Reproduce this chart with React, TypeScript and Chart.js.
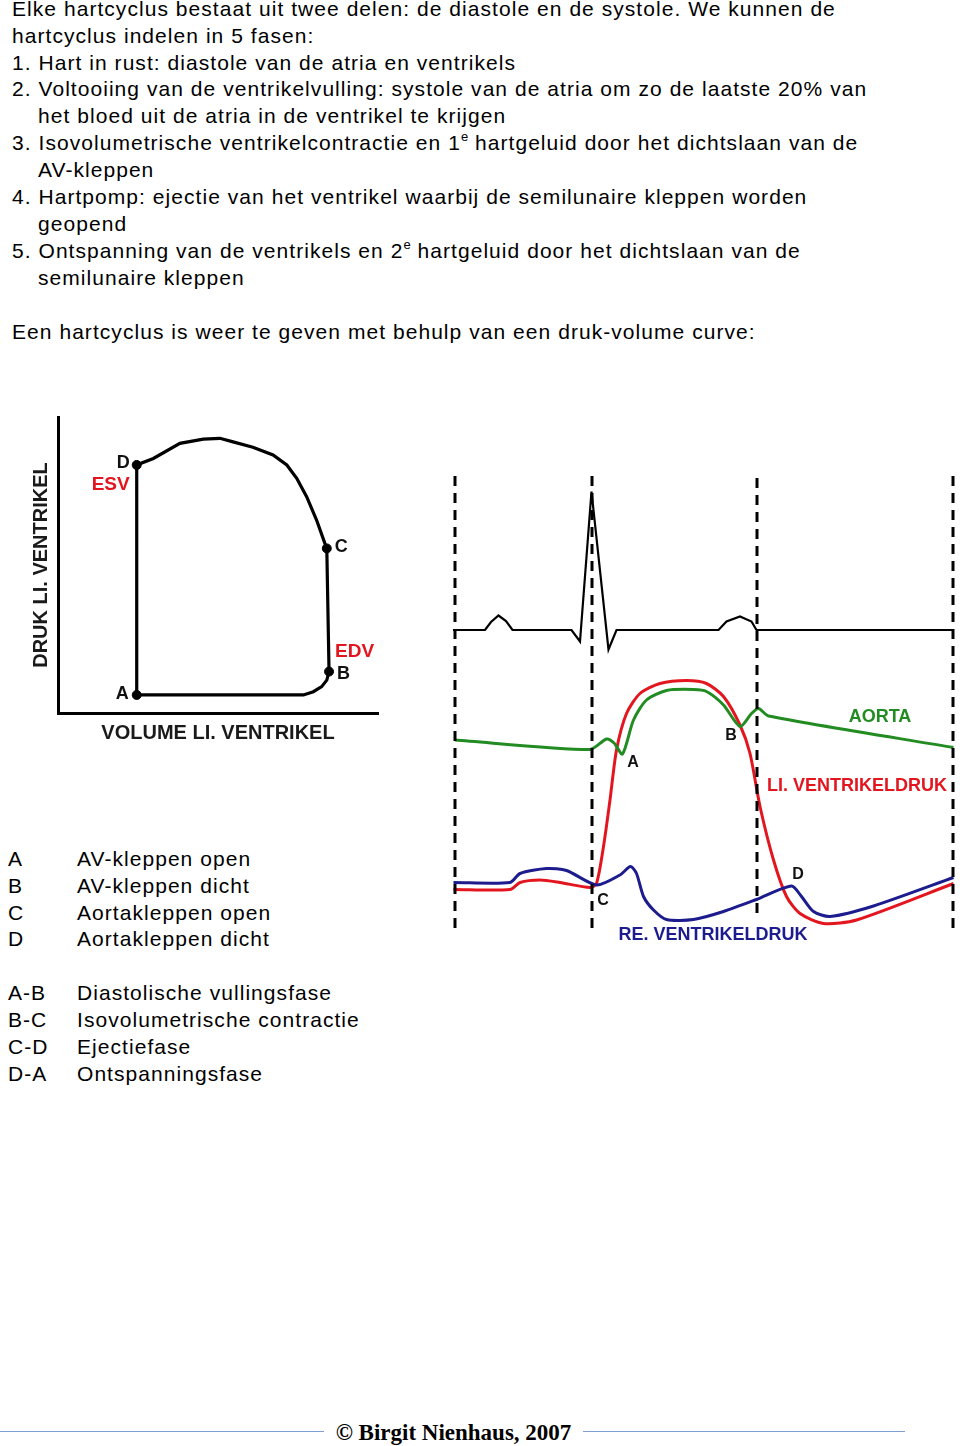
import React, { useEffect, useRef } from "react";
import { Chart, registerables } from "chart.js";

Chart.register(...registerables);

const FONT = '"Liberation Sans", Arial, Helvetica, sans-serif';

// ---------- Druk-volume curve (arbitrary units) ----------
// loop order: A -> B -> C -> D -> A
const pvVolume = [24.6, 76.7, 79.8, 82.4, 84.0, 84.7, 84.0, 83.4, 80.8, 77.7, 74.6, 71.5, 67.2, 60.9, 54.7, 50.6, 45.4, 38.1, 29.8, 24.6, 24.6];
const pvPressure = [6.1, 6.1, 7.2, 8.9, 11.1, 14.0, 55.6, 57.3, 65.2, 73.1, 79.3, 83.8, 87.2, 89.8, 91.6, 92.8, 92.5, 91.1, 86.0, 83.8, 6.1];
const pvKeyNames = ["A", "B", "C", "D"];
const pvKeyIndex = [0, 5, 6, 19];

// ---------- Wiggers diagram (time in % of cycle, arbitrary pressure units) ----------
const ecgTime = [0.6, 7.0, 8.2, 9.7, 11.2, 12.5, 24.3, 26.0, 28.3, 31.7, 33.3, 53.7, 55.3, 58.0, 60.3, 61.3, 100.7];
const ecgValue = [61.0, 61.0, 62.6, 63.9, 62.8, 61.0, 61.0, 58.7, 88.7, 57.1, 61.0, 61.0, 62.7, 63.7, 62.7, 61.0, 61.0];

const aortaTime = [1.0, 28.0, 31.3, 32.8, 34.5, 36.7, 39.3, 43.3, 48.7, 51.3, 54.7, 58.0, 60.3, 61.7, 63.7, 100.7];
const aortaValue = [39.0, 37.1, 39.2, 38.4, 36.2, 43.0, 47.0, 48.9, 49.1, 48.7, 46.0, 41.7, 44.3, 45.3, 43.8, 37.5];

const lvTime = [0.7, 12.0, 14.0, 18.0, 22.0, 28.0, 29.3, 30.7, 32.0, 33.3, 35.3, 38.0, 42.0, 47.3, 51.3, 54.7, 58.0, 60.0, 62.0, 64.7, 67.3, 70.0, 74.7, 81.3, 100.7];
const lvValue = [9.1, 9.1, 10.5, 11.0, 10.5, 9.5, 10.3, 17.7, 27.0, 37.0, 44.3, 48.3, 50.3, 50.9, 50.3, 47.7, 42.0, 36.3, 25.7, 15.0, 7.7, 4.3, 2.3, 3.0, 10.3];

const rvTime = [0.7, 12.0, 14.0, 19.3, 23.3, 29.3, 34.0, 36.1, 37.3, 38.7, 40.7, 43.3, 48.7, 54.7, 61.3, 68.3, 70.3, 72.7, 76.0, 84.7, 100.7];
const rvValue = [10.5, 10.5, 12.3, 13.3, 12.9, 10.0, 12.0, 13.7, 12.3, 7.7, 5.0, 3.1, 3.1, 4.7, 7.1, 9.8, 7.7, 4.7, 3.7, 5.8, 11.5];

const dividerTimes = [1.0, 28.4, 61.4, 100.6];
const dividerBottom = [1.4, 1.4, 4.4, 1.4];
const dividerTop = [92.4, 92.4, 92.4, 92.4];

const introLines: { text: string; indent?: boolean; sup?: [string, string] }[] = [
  { text: "Elke hartcyclus bestaat uit twee delen: de diastole en de systole. We kunnen de" },
  { text: "hartcyclus indelen in 5 fasen:" },
  { text: "1. Hart in rust: diastole van de atria en ventrikels" },
  { text: "2. Voltooiing van de ventrikelvulling: systole van de atria om zo de laatste 20% van" },
  { text: "het bloed uit de atria in de ventrikel te krijgen", indent: true },
  { text: "", sup: ["3. Isovolumetrische ventrikelcontractie en 1", " hartgeluid door het dichtslaan van de"] },
  { text: "AV-kleppen", indent: true },
  { text: "4. Hartpomp: ejectie van het ventrikel waarbij de semilunaire kleppen worden" },
  { text: "geopend", indent: true },
  { text: "", sup: ["5. Ontspanning van de ventrikels en 2", " hartgeluid door het dichtslaan van de"] },
  { text: "semilunaire kleppen", indent: true },
  { text: "" },
  { text: "Een hartcyclus is weer te geven met behulp van een druk-volume curve:" },
];

const legendPoints = [
  ["A", "AV-kleppen open"],
  ["B", "AV-kleppen dicht"],
  ["C", "Aortakleppen open"],
  ["D", "Aortakleppen dicht"],
];
const legendPhases = [
  ["A-B", "Diastolische vullingsfase"],
  ["B-C", "Isovolumetrische contractie"],
  ["C-D", "Ejectiefase"],
  ["D-A", "Ontspanningsfase"],
];

const RED = "#e3161f";
const GREEN = "#228b22";
const BLUE = "#1c1c8f";

const textMarksPlugin = {
  id: "textMarks",
  afterDatasetsDraw(chart: any, _args: any, opts: any) {
    const marks = (opts && opts.marks) || [];
    const { ctx } = chart;
    const xs = chart.scales.x;
    const ys = chart.scales.y;
    ctx.save();
    for (const m of marks) {
      ctx.font = `bold ${m.size}px ${FONT}`;
      ctx.fillStyle = m.color;
      ctx.textAlign = m.align || "center";
      ctx.textBaseline = "middle";
      const x = xs.getPixelForValue(m.x) + (m.dx || 0);
      const y = ys.getPixelForValue(m.y) + (m.dy || 0);
      ctx.fillText(m.text, x, y);
    }
    ctx.restore();
  },
};

function PVLoopChart() {
  const ref = useRef<HTMLCanvasElement | null>(null);
  useEffect(() => {
    if (!ref.current) return;
    const loop = pvVolume.map((v, i) => ({ x: v, y: pvPressure[i] }));
    const keys = pvKeyIndex.map((i) => ({ x: pvVolume[i], y: pvPressure[i] }));
    const offsets: Record<string, { dx: number; dy: number; align: string }> = {
      A: { dx: -8, dy: -1, align: "right" },
      B: { dx: 8, dy: 2, align: "left" },
      C: { dx: 8, dy: -1, align: "left" },
      D: { dx: -7, dy: -2, align: "right" },
    };
    const marks: any[] = pvKeyNames.map((n, k) => ({
      text: n,
      x: keys[k].x,
      y: keys[k].y,
      ...offsets[n],
      size: 18,
      color: "#111",
    }));
    marks.push({ text: "ESV", x: keys[3].x, y: keys[3].y, dx: -7, dy: 20, align: "right", size: 19, color: RED });
    marks.push({ text: "EDV", x: keys[1].x, y: keys[1].y, dx: 6, dy: -20, align: "left", size: 19, color: RED });

    const axisTitleFont = { family: FONT, size: 20, weight: "bold" as const };
    const chart = new Chart(ref.current, {
      type: "scatter",
      data: {
        datasets: [
          {
            data: loop,
            showLine: true,
            borderColor: "#000",
            borderWidth: 3.2,
            pointRadius: 0,
            tension: 0,
            clip: false,
          } as any,
          {
            data: keys,
            showLine: false,
            pointRadius: 4.5,
            pointBackgroundColor: "#000",
            pointBorderColor: "#000",
            clip: false,
          } as any,
        ],
      },
      options: {
        animation: false,
        responsive: false,
        maintainAspectRatio: false,
        layout: { padding: { left: 0, right: 12, top: 10, bottom: 0 } },
        plugins: {
          legend: { display: false },
          tooltip: { enabled: false },
          textMarks: { marks },
        } as any,
        scales: {
          x: {
            type: "linear",
            min: 0,
            max: 100,
            ticks: { display: false },
            grid: { display: false, drawTicks: false },
            border: { display: true, width: 3, color: "#000" },
            title: { display: true, text: "VOLUME LI. VENTRIKEL", color: "#1a1a1a", font: axisTitleFont, padding: { top: 8, bottom: 0 } },
          },
          y: {
            type: "linear",
            min: 0,
            max: 100,
            ticks: { display: false },
            grid: { display: false, drawTicks: false },
            border: { display: true, width: 3, color: "#000" },
            title: { display: true, text: "DRUK LI. VENTRIKEL", color: "#1a1a1a", font: axisTitleFont, padding: { top: 0, bottom: 5 } },
          },
        },
      },
      plugins: [textMarksPlugin as any],
    });
    return () => chart.destroy();
  }, []);
  return (
    <canvas
      ref={ref}
      width={361}
      height={338}
      style={{ position: "absolute", left: 29, top: 407, width: 361, height: 338 }}
    />
  );
}

function WiggersChart() {
  const ref = useRef<HTMLCanvasElement | null>(null);
  useEffect(() => {
    if (!ref.current) return;
    const toPts = (t: number[], v: number[]) => t.map((x, i) => ({ x, y: v[i] }));
    const dividers = dividerTimes.map((t, i) => ({
      data: [
        { x: t, y: dividerBottom[i] },
        { x: t, y: dividerTop[i] },
      ],
      showLine: true,
      borderColor: "#000",
      borderWidth: 3,
      borderDash: [10, 7],
      pointRadius: 0,
      clip: false,
    }));
    const marks = [
      { text: "AORTA", x: 86.0, y: 43.6, size: 18, color: GREEN },
      { text: "LI. VENTRIKELDRUK", x: 81.4, y: 29.8, size: 18, color: RED },
      { text: "RE. VENTRIKELDRUK", x: 52.6, y: -0.1, size: 18, color: BLUE },
      { text: "A", x: 36.6, y: 34.4, size: 16, color: "#111" },
      { text: "B", x: 56.2, y: 39.8, size: 16, color: "#111" },
      { text: "C", x: 30.6, y: 6.8, size: 16, color: "#111" },
      { text: "D", x: 69.6, y: 12.0, size: 16, color: "#111" },
    ];
    const chart = new Chart(ref.current, {
      type: "scatter",
      data: {
        datasets: [
          ...(dividers as any[]),
          { data: toPts(ecgTime, ecgValue), showLine: true, borderColor: "#000", borderWidth: 2.2, pointRadius: 0, tension: 0, clip: false } as any,
          { data: toPts(aortaTime, aortaValue), showLine: true, borderColor: GREEN, borderWidth: 3, pointRadius: 0, tension: 0.25, clip: false } as any,
          { data: toPts(rvTime, rvValue), showLine: true, borderColor: BLUE, borderWidth: 3, pointRadius: 0, tension: 0.25, clip: false } as any,
          { data: toPts(lvTime, lvValue), showLine: true, borderColor: RED, borderWidth: 3, pointRadius: 0, tension: 0.25, clip: false } as any,
        ],
      },
      options: {
        animation: false,
        responsive: false,
        maintainAspectRatio: false,
        layout: { padding: { left: 10, right: 5, top: 15, bottom: 25 } },
        plugins: {
          legend: { display: false },
          tooltip: { enabled: false },
          textMarks: { marks },
        } as any,
        scales: {
          x: { type: "linear", min: 0, max: 101, display: false },
          y: { type: "linear", min: 0, max: 100, display: false },
        },
      },
      plugins: [textMarksPlugin as any],
    });
    return () => chart.destroy();
  }, []);
  return (
    <canvas
      ref={ref}
      width={520}
      height={540}
      style={{ position: "absolute", left: 440, top: 420, width: 520, height: 540 }}
    />
  );
}

export default function App() {
  const supStyle: React.CSSProperties = { fontSize: 13, position: "relative", top: -9, lineHeight: 0, letterSpacing: 0 };
  const bodyText: React.CSSProperties = { fontSize: 21, letterSpacing: "1.05px", lineHeight: "26.9px", whiteSpace: "nowrap" };
  return (
    <div
      style={{
        position: "absolute",
        left: 0,
        top: 0,
        width: 960,
        height: 1446,
        background: "#fff",
        color: "#000",
        fontFamily: FONT,
        overflow: "hidden",
      }}
    >
      <div style={{ position: "absolute", left: 12, top: -4.2, ...bodyText }}>
        {introLines.map((l, i) => (
          <div key={i} style={{ height: 26.9, paddingLeft: l.indent ? 26 : 0 }}>
            {l.sup ? (
              <>
                {l.sup[0]}
                <span style={supStyle}>e</span>
                {l.sup[1]}
              </>
            ) : (
              l.text || "\u00a0"
            )}
          </div>
        ))}
      </div>

      <PVLoopChart />
      <WiggersChart />

      <div style={{ position: "absolute", left: 8, top: 845.8, ...bodyText }}>
        {[...legendPoints, ["", ""], ...legendPhases].map((r, i) => (
          <div key={i} style={{ height: 26.9, position: "relative" }}>
            <span style={{ display: "inline-block", width: 69 }}>{r[0] || "\u00a0"}</span>
            <span>{r[1]}</span>
          </div>
        ))}
      </div>

      <div style={{ position: "absolute", left: 0, top: 1431, width: 324, height: 1, background: "#7f9fd2" }} />
      <div style={{ position: "absolute", left: 583, top: 1431, width: 322, height: 1, background: "#7f9fd2" }} />
      <div
        style={{
          position: "absolute",
          left: 324,
          width: 259,
          top: 1418,
          height: 30,
          lineHeight: "30px",
          textAlign: "center",
          fontFamily: '"Liberation Serif", "Times New Roman", serif',
          fontWeight: "bold",
          fontSize: 23,
          whiteSpace: "nowrap",
        }}
      >
        © Birgit Nienhaus, 2007
      </div>
    </div>
  );
}
